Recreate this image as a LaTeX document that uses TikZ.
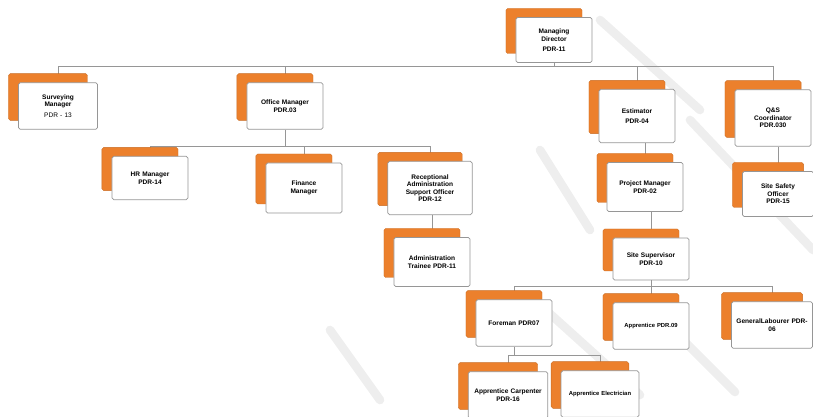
\documentclass[tikz,border=0pt]{standalone}
\usepackage{fontspec}
\setmainfont{Liberation Sans}
\usetikzlibrary{shadows,backgrounds}
\definecolor{postorange}{RGB}{236,128,44}
\definecolor{postline}{RGB}{150,150,150}
\begin{document}
\begin{tikzpicture}[node distance={21mm},
    main/.style={draw=postline, line width=0.6pt, fill=white, rounded corners=1.5pt,
        minimum width=22.5mm, minimum height=14mm, align=center, text width=20.5mm,
        font=\fontsize{5.6}{6.4}\selectfont\bfseries,
        copy shadow={shadow xshift=-3mm, shadow yshift=2.7mm, fill=postorange, draw=postorange!85!black, line width=0.3pt}},
    link/.style={draw=postline, line width=0.5pt}]
    \useasboundingbox (-166.2mm,12mm) rectangle (77.7mm,-113.1mm);

    \node[main, minimum width=21.6mm, minimum height=13.5mm] (md) {Managing\\Director\\[2pt]PDR-11};

    \node[main, minimum width=23.7mm] (sm) [below of=md, xshift=-148.8mm, yshift=1.2mm] {Surveying\\Manager\\[3pt]\mdseries PDR - 13};
    \node[main] (om) [below of=md, xshift=-80.7mm, yshift=1.2mm] {Office Manager\\PDR.03};
    \node[main, minimum width=21.3mm, minimum height=16mm] (est) [below of=md, xshift=24.9mm, yshift=-1.8mm] {Estimator\\[2pt]PDR-04};
    \node[main, minimum width=22mm, minimum height=17mm] (qse) [below of=md, xshift=65.7mm, yshift=-2.4mm] {Q\&S\\Coordinator\\PDR.030};

    \node[main, minimum height=13mm] (hr) [below of=om, xshift=-40.5mm, yshift=-0.6mm] {HR Manager\\PDR-14};
    \node[main, minimum height=15mm] (fm) [below of=om, xshift=5.7mm, yshift=-3.6mm] {Finance\\Manager};
    \node[main, minimum width=25mm, minimum height=16mm, text width=23mm] (rec) [below of=om, xshift=43.5mm, yshift=-3.6mm] {Receptional\\Administration\\Support Officer\\PDR-12};
    \node[main, minimum height=14.7mm] (at) [below of=rec, xshift=0.6mm, yshift=-1.2mm] {Administration\\Trainee PDR-11};

    \node[main, minimum height=14.7mm] (pm) [below of=est, xshift=2.4mm, yshift=-0.3mm] {Project Manager\\PDR-02};
    \node[main, minimum width=21.6mm, minimum height=12.6mm] (ss) [below of=pm, xshift=1.8mm, yshift=-0.6mm] {Site Supervisor\\PDR-10};
    \node[main, minimum width=21mm, minimum height=13.5mm, text width=19mm] (sso) [below of=qse, xshift=1.5mm, yshift=-1.8mm] {Site Safety\\Officer\\PDR-15};

    \node[main] (fore) [below of=ss, xshift=-41.1mm, yshift=1.8mm] {Foreman PDR07};
    \node[main, font=\fontsize{5}{6}\selectfont\bfseries] (app) [below of=ss, yshift=0.9mm] {Apprentice PDR.09};
    \node[main, minimum width=23.7mm, text width=22mm] (gl) [below of=ss, xshift=36.3mm, yshift=1.2mm] {GeneralLabourer PDR-\\06};
    \node[main, minimum width=23mm, text width=21.5mm] (ac) [below of=fore, xshift=-1.8mm, yshift=-0.6mm] {Apprentice Carpenter\\PDR-16};
    \node[main, minimum width=22mm, text width=21mm, font=\fontsize{5}{6}\selectfont\bfseries] (ae) [below of=fore, xshift=25.8mm, yshift=-0.3mm] {Apprentice Electrician};

    \coordinate (b1) at ([yshift=-7.8mm]md.center);
    \coordinate (b2) at ([yshift=-12.2mm]om.center);
    \coordinate (b3) at ([yshift=-8.3mm]ss.center);
    \coordinate (b4) at ([yshift=-9.6mm]fore.center);

    \begin{pgfonlayer}{background}
    % faint watermark strokes
    \begin{scope}[shift={(-166.2mm,12mm)}, x=0.3mm, y=-0.3mm, draw=gray!13, line width=2.6mm, line cap=round]
        \draw (548,312) -- (640,395);
        \draw (678,335) -- (735,392);
        \draw (690,120) -- (813,250);
        \draw (600,20) -- (700,110);
        \draw (540,150) -- (590,230);
        \draw (330,330) -- (380,400);
    \end{scope}

    \draw[link] (md) -- (b1);
    \draw[link] (b1) -| (sm);
    \draw[link] (b1) -| (om);
    \draw[link] (b1) -| (est);
    \draw[link] (b1) -| (qse);

    \draw[link] (om) -- (b2);
    \draw[link] (b2) -| (hr);
    \draw[link] (b2) -| (fm);
    \draw[link] (b2) -| (rec);
    \draw[link] (at |- rec.south) -- (at);

    \draw[link] (pm |- est.south) -- (pm);
    \draw[link] (ss |- pm.south) -- (ss);
    \draw[link] (sso |- qse.south) -- (sso);

    \draw[link] (ss) -- (b3);
    \draw[link] (b3) -| (fore);
    \draw[link] (b3) -| (app);
    \draw[link] (b3) -| (gl);

    \draw[link] (fore) -- (b4);
    \draw[link] (b4) -| (ac);
    \draw[link] (b4) -| (ae);
    \end{pgfonlayer}
\end{tikzpicture}
\end{document}
